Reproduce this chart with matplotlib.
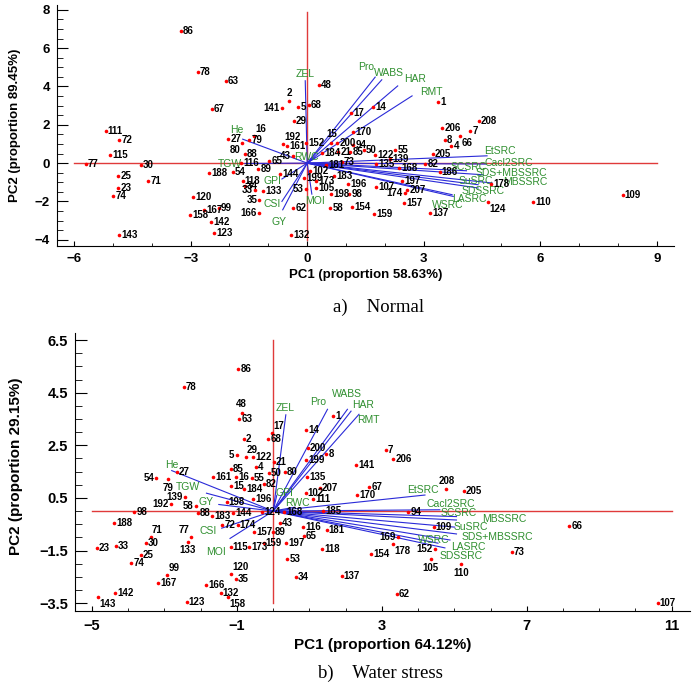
import matplotlib
matplotlib.use("Agg")
import matplotlib.pyplot as plt
from matplotlib.ticker import MultipleLocator

plt.rcParams['font.family'] = ['Liberation Sans', 'DejaVu Sans']

# ---------------- a) Normal : genotype scores ----------------
norm_names = ['86', '78', '63', '67', '48', '2', '141', '5', '68', '29', '17', '14', '1',
              '208', '206', '7', '66', '8', '4', '205', '82', '186', '178', '55', '122',
              '139', '50', '21', '85', '200', '15', '94', '170', '73', '184', '181', '102',
              '183', '173', '199', '105', '196', '198', '98', '53', '62', '58', '154', '159',
              '107', '174', '157', '207', '197', '168', '135', '124', '110', '109', '137',
              '77', '30', '25', '71', '23', '74', '143', '111', '72', '115', '120', '158',
              '167', '99', '142', '123', '188', '116', '54', '89', '65', '144', '118', '34',
              '33', '133', '35', '166', '132', '16', '27', '79', '80', '88', '192', '161',
              '152', '43']
norm_pc1 = [-3.25, -2.81, -2.09, -2.45, 0.31, -0.46, -0.65, -0.23, 0.04, -0.35, 1.13, 1.69, 3.37,
            4.41, 3.48, 4.20, 3.94, 3.55, 3.71, 3.23, 3.04, 3.41, 4.74, 2.27, 1.75,
            2.14, 1.45, 0.80, 1.11, 0.77, 0.62, 1.19, 1.18, 0.89, 0.39, 0.49, 0.08,
            0.70, 0.23, -0.08, 0.23, 1.06, 0.62, 1.08, -0.03, -0.36, 0.59, 1.16, 1.73,
            1.78, 2.52, 2.50, 2.58, 2.45, 2.37, 1.78, 4.66, 5.81, 8.12, 3.17,
            -5.70, -4.28, -4.86, -4.09, -4.86, -4.99, -4.84, -5.19, -4.84, -5.07, -2.93, -3.01,
            -2.65, -2.28, -2.48, -2.39, -2.52, -1.70, -1.91, -1.26, -0.98, -0.70, -1.66, -1.60,
            -1.34, -1.13, -1.23, -1.25, -0.41, -1.36, -2.03, -1.49, -1.68, -1.60, -0.63, -0.52,
            -0.03, -0.37]
norm_pc2 = [6.90, 4.78, 4.31, 2.82, 4.07, 3.25, 2.86, 2.94, 3.04, 2.21, 2.61, 2.92, 3.20,
            2.21, 1.83, 1.68, 1.39, 1.22, 0.90, 0.49, -0.04, -0.49, -1.08, 0.69, 0.43,
            0.22, 0.66, 0.56, 0.56, 1.06, 1.07, 0.95, 1.61, 0.08, 0.52, -0.09, -0.39,
            -0.66, -0.92, -0.77, -1.29, -1.08, -1.60, -1.60, -1.34, -2.32, -2.33, -2.28, -2.68,
            -1.25, -1.56, -2.07, -1.39, -0.92, -0.27, -0.05, -2.02, -2.03, -1.69, -2.58,
            -0.05, -0.09, -0.65, -0.94, -1.30, -1.74, -3.78, 1.65, 1.20, 0.42, -1.77, -2.71,
            -2.44, -2.32, -3.10, -3.65, -0.52, -0.01, -0.48, -0.31, 0.12, -0.56, -0.91, -1.17,
            -1.43, -1.44, -1.91, -2.58, -3.78, 1.44, 1.25, 1.22, 1.04, 0.49, 1.01, 0.90,
            1.04, 0.38]

# a) Normal : trait loadings (arrow tips)
traits = ['ZEL', 'Pro', 'WABS', 'HAR', 'RMT', 'He', 'TGW', 'GPI', 'CSI', 'GY', 'MOI', 'RWC',
          'EtSRC', 'Cacl2SRC', 'SCSRC', 'SDS+MBSSRC', 'SuSRC', 'MBSSRC', 'SDSSRC', 'LASRC', 'WSRC']
norm_load1 = [-0.05, 1.75, 1.92, 2.33, 2.70, -1.66, -1.60, -0.65, -0.65, -0.63, 0.12, 0.20,
              4.63, 4.60, 4.10, 4.53, 4.40, 4.76, 4.40, 3.76, 3.73]
norm_load2 = [4.30, 4.49, 4.35, 4.03, 3.51, 1.25, -0.02, -0.83, -2.00, -2.44, -1.62, 0.28,
              0.38, -0.05, -0.40, -0.61, -1.13, -1.04, -1.30, -1.74, -1.65]

# ---------------- b) Water stress : genotype scores ----------------
ws_names = ['86', '78', '48', '63', '2', '17', '68', '5', '29', '122', '4', '21', '85', '80',
            '50', '55', '161', '16', '15', '184', '82', '196', '135', '102', '207', '111',
            '141', '7', '206', '14', '1', '200', '8', '199', '67', '170', '208', '205', '94',
            '109', '66', '73', '110', '105', '152', '178', '154', '169', '62', '107', '137',
            '185', '181', '116', '65', '43', '157', '89', '159', '197', '173', '115', '174',
            '72', '144', '183', '88', '198', '124', '168', '58', '192', '139', '54', '79',
            '27', '98', '188', '71', '30', '23', '33', '25', '74', '99', '167', '142', '143',
            '123', '166', '132', '158', '35', '120', '53', '34', '118', '77', '133']
ws_pc1 = [-0.96, -2.47, -0.87, -0.94, -0.81, -0.02, -0.14, -1.01, -0.76, -0.56, -0.48, 0.02, -1.17, 0.32,
          -0.12, -0.59, -1.66, -1.03, -1.15, -0.81, -0.26, -0.56, 0.93, 0.90, 1.29, 1.10,
          2.30, 3.11, 3.31, 0.92, 1.66, 0.95, 1.47, 0.92, 2.65, 2.32, 4.78, 5.26, 3.73,
          4.43, 8.17, 6.58, 5.18, 4.35, 4.46, 3.31, 2.70, 3.44, 3.41, 10.61, 1.89,
          1.38, 1.48, 0.83, 0.85, 0.19, -0.53, -0.01, -0.26, 0.35, -0.67, -1.17, -0.98,
          -1.41, -1.10, -1.69, -2.08, -1.28, -0.31, 0.30, -2.13, -2.82, -2.43, -3.22, -2.91,
          -2.66, -3.83, -4.39, -3.38, -3.52, -4.87, -4.35, -3.65, -3.92, -2.92, -3.17, -4.37, -4.83,
          -2.39, -1.84, -1.45, -1.24, -1.03, -1.17, 0.39, 0.63, 1.36, -2.28, -2.36]
ws_pc2 = [5.40, 4.73, 3.74, 3.49, 2.74, 2.97, 2.74, 2.13, 2.05, 2.06, 1.68, 1.87, 1.60, 1.48,
          1.44, 1.25, 1.30, 1.29, 0.96, 0.84, 1.03, 0.46, 1.30, 0.68, 0.88, 0.46,
          1.75, 2.33, 1.97, 3.09, 3.62, 2.39, 2.17, 1.94, 0.93, 0.61, 0.84, 0.78, -0.04,
          -0.60, -0.55, -1.54, -2.02, -1.83, -1.45, -1.25, -1.63, -0.97, -3.16, -3.48, -2.47,
          0.02, -0.71, -0.59, -0.94, -0.45, -0.79, -0.79, -1.21, -1.21, -1.36, -1.36, -0.53,
          -0.53, -0.08, -0.18, -0.07, 0.35, -0.05, -0.05, 0.21, 0.27, 0.53, 1.25, 1.21,
          1.50, -0.02, -0.46, -0.97, -1.20, -1.39, -1.33, -1.67, -1.98, -2.43, -2.74, -3.10, -3.28,
          -3.45, -2.82, -3.12, -3.28, -2.58, -2.40, -1.83, -2.52, -1.45, -0.99, -1.18]

# b) Water stress : trait loadings (arrow tips), same trait order
ws_load1 = [0.35, 1.50, 2.05, 2.15, 2.37, -2.80, -1.84, 0.10, -1.42, -1.50, -1.19, 0.60,
            4.19, 4.60, 5.06, 5.06, 5.01, 5.06, 4.74, 4.88, 4.55]
ws_load2 = [3.66, 3.87, 3.87, 3.80, 3.68, 1.54, 0.68, 0.60, -0.65, 0.25, -1.04, 0.15,
            0.61, 0.05, -0.21, -0.87, -0.61, -0.34, -1.40, -1.10, -1.22]

# where the trait names sit (data units)
norm_tlab = [(-0.05, 4.66), (1.52, 5.04), (2.11, 4.73), (2.78, 4.40), (3.19, 3.70), (-1.80, 1.74),
             (-1.98, -0.04), (-0.90, -0.91), (-0.90, -2.12), (-0.72, -3.05), (0.21, -1.97),
             (-0.03, 0.34), (4.97, 0.61), (5.20, 0.03), (4.15, -0.21), (5.25, -0.52),
             (4.35, -0.96), (5.61, -1.01), (4.53, -1.48), (4.17, -1.86), (3.61, -2.21)]
ws_tlab = [(0.32, 3.91), (1.25, 4.16), (2.03, 4.45), (2.48, 4.04), (2.64, 3.45), (-2.81, 1.75),
           (-2.34, 0.93), (0.31, 0.68), (-1.79, -0.77), (-1.84, 0.33), (-1.58, -1.54),
           (0.66, 0.30), (4.14, 0.80), (4.90, 0.27), (5.11, -0.06), (6.20, -0.99),
           (5.46, -0.59), (6.39, -0.31), (5.20, -1.71), (5.38, -1.35), (4.43, -1.10)]

# label placement codes for genotype numbers (default: right of the dot)
SPOT = {'R': (1.5, 0, 'left'), 'L': (-1.5, 0, 'right'), 'A': (0, 6, 'center'),
        'B': (0, -6, 'center'), 'AR': (1, 5, 'left'), 'BR': (1, -5, 'left'),
        'AL': (-1, 5, 'right'), 'BL': (-1, -5, 'right')}
norm_spot = {'2': 'A', '141': 'L', '66': 'BR', '15': 'A', '53': 'L', '174': 'L', '124': 'BR',
             '33': 'L', '35': 'L', '166': 'L', '16': 'AR', '80': 'BL', '192': 'AR', '43': 'L'}
ws_spot = {'48': 'A', '17': 'AR', '5': 'L', '29': 'AR', '208': 'A', '110': 'B', '105': 'B',
           '152': 'L', '178': 'BR', '169': 'L', '58': 'L', '192': 'L', '139': 'L', '54': 'L',
           '79': 'B', '71': 'AR', '99': 'AR', '143': 'BR', '158': 'BR', '120': 'AR',
           '77': 'AL', '133': 'B'}

RED = '#e03a3a'
BLUE = '#2a2ad8'
GREEN = '#2f8f2f'


def biplot(ax, names, pc1, pc2, load1, load2, tlab, spots, hline, vline):
    ax.plot(hline, [0, 0], color=RED, lw=1.0, zorder=1)
    ax.plot([0, 0], vline, color=RED, lw=1.0, zorder=1)
    for t, lx, ly, (tx, ty) in zip(traits, load1, load2, tlab):
        ax.plot([0, lx], [0, ly], color=BLUE, lw=0.8, zorder=2)
        ax.text(tx, ty, t, color=GREEN, fontsize=7.5, ha='center', va='center', zorder=3)
    ax.plot(pc1, pc2, 'o', color='red', ms=2.6, mec='none', zorder=4)
    for n, x, y in zip(names, pc1, pc2):
        dx, dy, ha = SPOT[spots.get(n, 'R')]
        ax.annotate(n, (x, y), xytext=(dx, dy), textcoords='offset points',
                    ha=ha, va='center', fontsize=7, fontweight='bold', zorder=5)
    for s in ['top', 'right']:
        ax.spines[s].set_visible(False)
    ax.tick_params(which='both', direction='in')


fig = plt.figure(figsize=(6.94, 6.83), dpi=100)

# ---- top panel ----
ax1 = fig.add_axes([0.0821, 0.6398, 0.889, 0.353])
biplot(ax1, norm_names, norm_pc1, norm_pc2, norm_load1, norm_load2, norm_tlab, norm_spot,
       [-6, 9], [-4, 7.9])
ax1.set_xlim(-6.44, 9.44)
ax1.set_ylim(-4.33, 8.26)
ax1.xaxis.set_major_locator(MultipleLocator(3))
ax1.xaxis.set_minor_locator(MultipleLocator(1))
ax1.yaxis.set_major_locator(MultipleLocator(2))
ax1.yaxis.set_minor_locator(MultipleLocator(0.5))
ax1.tick_params(axis='y', which='major', length=8, pad=5)
ax1.tick_params(axis='y', which='minor', length=4.3)
ax1.tick_params(axis='x', which='major', length=3.6, pad=5)
ax1.tick_params(axis='x', which='minor', length=2.2)
for lab in ax1.get_xticklabels() + ax1.get_yticklabels():
    lab.set_fontweight('bold')
    lab.set_fontsize(9.5)
ax1.set_xlabel('PC1 (proportion 58.63%)', fontsize=9.5, fontweight='bold')
ax1.set_ylabel('PC2 (proportion 89.45%)', fontsize=9.5, fontweight='bold')
ax1.xaxis.set_label_coords(0.5, -0.095)
ax1.yaxis.set_label_coords(-0.058, 0.5)

# ---- bottom panel ----
ax2 = fig.add_axes([0.108, 0.1054, 0.886, 0.407])
biplot(ax2, ws_names, ws_pc1, ws_pc2, ws_load1, ws_load2, ws_tlab, ws_spot,
       [-5, 11], [-3.5, 6.5])
ax2.set_xlim(-5.47, 11.5)
ax2.set_ylim(-3.8, 6.77)
ax2.set_xticks([-5, -1, 3, 7, 11])
ax2.xaxis.set_minor_locator(MultipleLocator(1))
ax2.set_yticks([-3.5, -1.5, 0.5, 2.5, 4.5, 6.5])
ax2.yaxis.set_minor_locator(MultipleLocator(0.5))
ax2.tick_params(axis='y', which='major', length=8.5, pad=5)
ax2.tick_params(axis='y', which='minor', length=5)
ax2.tick_params(axis='x', which='major', length=3.6, pad=6)
ax2.tick_params(axis='x', which='minor', length=2.2)
for lab in ax2.get_xticklabels() + ax2.get_yticklabels():
    lab.set_fontweight('bold')
    lab.set_fontsize(10.5)
ax2.set_xlabel('PC1 (proportion 64.12%)', fontsize=11, fontweight='bold')
ax2.set_ylabel('PC2 (proportion 29.15%)', fontsize=11, fontweight='bold')
ax2.xaxis.set_label_coords(0.5, -0.098)
ax2.yaxis.set_label_coords(-0.085, 0.52)

fig.text(333 / 694, 1 - 307 / 683, 'a)    Normal', family='Liberation Serif', fontsize=13.5,
         ha='left', va='center')
fig.text(318 / 694, 1 - 673 / 683, 'b)    Water stress', family='Liberation Serif', fontsize=13.5,
         ha='left', va='center')

fig.savefig('out.png', dpi=100)
